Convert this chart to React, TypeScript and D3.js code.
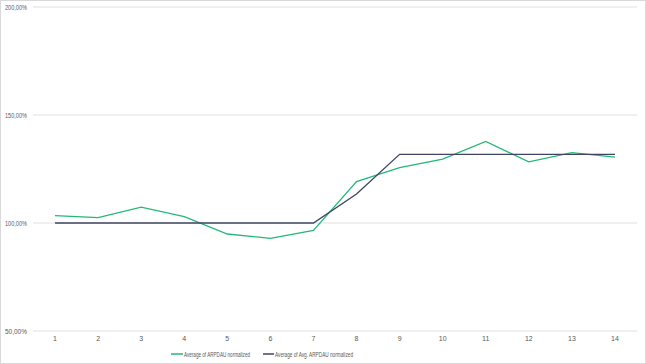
import * as d3 from "d3";

const categories = ["1", "2", "3", "4", "5", "6", "7", "8", "9", "10", "11", "12", "13", "14"];
const arpdau = [103.4, 102.5, 107.3, 102.9, 94.9, 92.9, 96.6, 119.2, 125.6, 129.6, 137.8, 128.3, 132.6, 130.5];
const avgArpdau = [100, 100, 100, 100, 100, 100, 100, 113.4, 131.8, 131.8, 131.8, 131.8, 131.8, 131.8];
const yTicks = [50, 100, 150, 200];
const seriesNames = ["Average of ARPDAU normalized", "Average of Avg. ARPDAU normalized"];
const colors = ["#23b877", "#3f4563"];

const W = 646;
const H = 364;

function App() {
    const x = d3.scaleBand().domain(categories).range([33.5, 636.5]);
    const y = d3.scaleLinear().domain([50, 200]).range([331, 7]);
    const cx = (d: string) => (x(d) as number) + x.bandwidth() / 2;
    const line = d3
        .line<number>()
        .x((d, i) => cx(categories[i]))
        .y((d) => y(d));
    const fmt = (v: number) => v.toFixed(2).replace(".", ",") + "%";
    const font = "'Liberation Sans', Arial, sans-serif";

    return (
        <svg
            width={W}
            height={H}
            style={{ position: "absolute", left: 0, top: 0, fontFamily: font }}
        >
            <rect x={0.5} y={0.5} width={W - 1} height={H - 1} fill="#fff" stroke="#d9d9d9" />
            {/* grid + y labels */}
            {yTicks.map((t) => (
                <g key={t}>
                    <line x1={33} x2={637} y1={y(t)} y2={y(t)} stroke="#e0e0e0" strokeWidth={1} />
                    <text x={5} y={y(t) + 2.5} fontSize={7} fill="#595959" textLength={22} lengthAdjust="spacingAndGlyphs">
                        {fmt(t)}
                    </text>
                </g>
            ))}
            {/* x labels */}
            {categories.map((c) => (
                <text key={c} x={cx(c)} y={341} fontSize={7} fill="#595959" textAnchor="middle">
                    {c}
                </text>
            ))}
            <path d={line(arpdau) || ""} fill="none" stroke={colors[0]} strokeWidth={1.3} />
            <path d={line(avgArpdau) || ""} fill="none" stroke={colors[1]} strokeWidth={1.3} />
            {/* legend */}
            <g fontSize={6.5} fill="#595959">
                <line x1={171} x2={183} y1={354} y2={354} stroke={colors[0]} strokeWidth={1.5} />
                <text x={184} y={356.5} textLength={66} lengthAdjust="spacingAndGlyphs">{seriesNames[0]}</text>
                <line x1={263} x2={274} y1={354} y2={354} stroke={colors[1]} strokeWidth={1.5} />
                <text x={275} y={356.5} textLength={78} lengthAdjust="spacingAndGlyphs">{seriesNames[1]}</text>
            </g>
        </svg>
    );
}

export default App;
